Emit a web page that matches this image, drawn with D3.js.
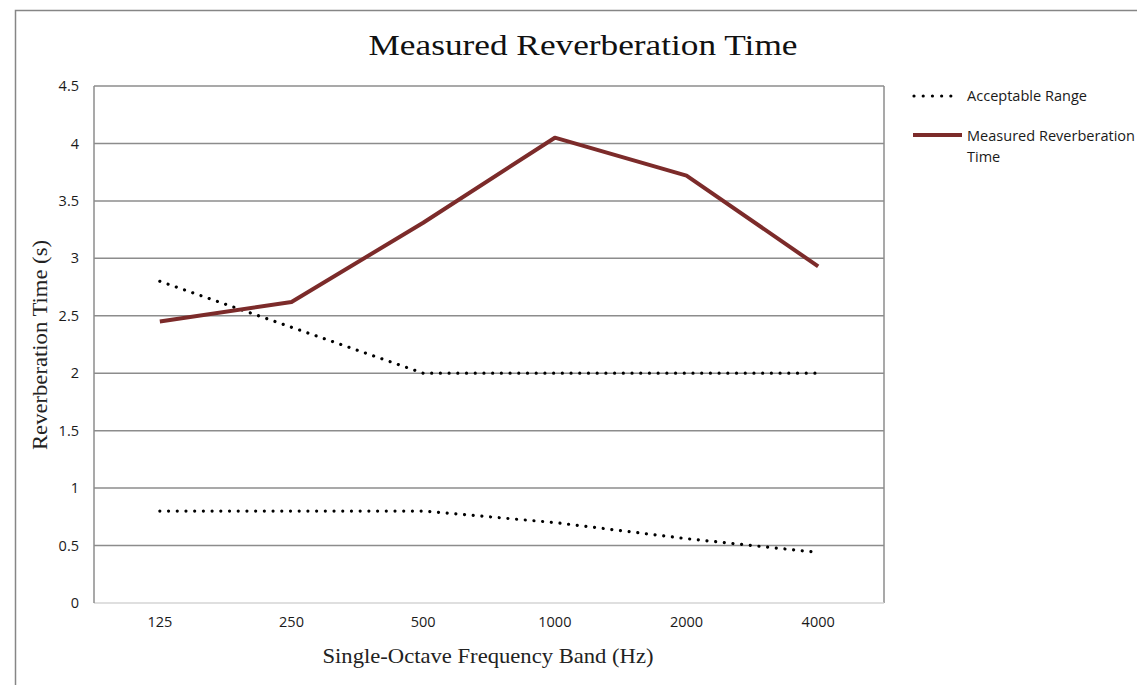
<!DOCTYPE html>
<html>
<head>
<meta charset="utf-8">
<script src="https://cdn.jsdelivr.net/npm/d3@7"></script>
<style>
  html, body { margin: 0; padding: 0; background: #fff; }
  svg { display: block; }
</style>
</head>
<body>
<svg id="chart" width="1137" height="685"></svg>
<script>
// Frequency bands (Hz)
const bands = ["125", "250", "500", "1000", "2000", "4000"];
// Upper and lower bounds of the acceptable reverberation time (s)
const acceptableUpper = [2.8, 2.4, 2.0, 2.0, 2.0, 2.0];
const acceptableLower = [0.8, 0.8, 0.8, 0.7, 0.56, 0.44];
// Measured reverberation time (s)
const measured = [2.45, 2.62, 3.31, 4.05, 3.72, 2.93];
// Value axis ticks
const yTicks = [0, 0.5, 1, 1.5, 2, 2.5, 3, 3.5, 4, 4.5];

const svg = d3.select("#chart");
const plot = { left: 94, right: 884, top: 86, bottom: 603 };

const serif = "'Liberation Serif', 'DejaVu Serif', serif";
const sans = "'Open Sans', 'Liberation Sans', sans-serif";
const labelSize = 14.5;

// Chart frame
svg.append("path")
  .attr("d", "M15.5,690 V10.5 H1140")
  .attr("fill", "none").attr("stroke", "#868686").attr("stroke-width", 1.5);

const x = d3.scaleBand().domain(bands).range([plot.left, plot.right]);
const y = d3.scaleLinear().domain([0, 4.5]).range([plot.bottom, plot.top]);

// Horizontal gridlines
svg.append("g")
  .selectAll("line")
  .data(yTicks.filter(d => d > 0))
  .join("line")
  .attr("x1", plot.left).attr("x2", plot.right)
  .attr("y1", d => y(d)).attr("y2", d => y(d))
  .attr("stroke", "#8c8c8c").attr("stroke-width", 1.5);

// Right edge of the plot area
svg.append("line")
  .attr("x1", plot.right).attr("x2", plot.right)
  .attr("y1", plot.top).attr("y2", plot.bottom)
  .attr("stroke", "#8c8c8c").attr("stroke-width", 1.5);

// Category axis line
svg.append("line")
  .attr("x1", plot.left).attr("x2", plot.right)
  .attr("y1", plot.bottom).attr("y2", plot.bottom)
  .attr("stroke", "#d4d4d4").attr("stroke-width", 1.5);

// Value axis line
svg.append("line")
  .attr("x1", plot.left).attr("x2", plot.left)
  .attr("y1", plot.top).attr("y2", plot.bottom)
  .attr("stroke", "#8c8c8c").attr("stroke-width", 1.5);

// Value axis labels
const yAxis = d3.axisLeft(y).tickValues(yTicks).tickSize(0).tickPadding(15)
  .tickFormat(d => String(d));
const yg = svg.append("g").attr("transform", `translate(${plot.left},0)`).call(yAxis);
yg.select(".domain").remove();
yg.selectAll("text")
  .attr("font-family", sans).attr("font-size", labelSize).attr("fill", "#1a1a1a");

// Category axis labels
const xAxis = d3.axisBottom(x).tickSize(0).tickPadding(14);
const xg = svg.append("g").attr("transform", `translate(0,${plot.bottom})`).call(xAxis);
xg.select(".domain").remove();
xg.selectAll("text")
  .attr("font-family", sans).attr("font-size", labelSize).attr("fill", "#1a1a1a");

const line = d3.line()
  .x((d, i) => x(bands[i]) + x.bandwidth() / 2)
  .y(d => y(d));

// Acceptable range bounds (round-dot lines)
[acceptableUpper, acceptableLower].forEach(series => {
  svg.append("path")
    .datum(series)
    .attr("d", line)
    .attr("fill", "none")
    .attr("stroke", "#000")
    .attr("stroke-width", 3.2)
    .attr("stroke-linecap", "round")
    .attr("stroke-dasharray", "0.01 8.7");
});

// Measured reverberation time
svg.append("path")
  .datum(measured)
  .attr("d", line)
  .attr("fill", "none")
  .attr("stroke", "#7c2b2a")
  .attr("stroke-width", 4)
  .attr("stroke-linejoin", "round");

// Title
svg.append("text")
  .attr("x", 583).attr("y", 55)
  .attr("text-anchor", "middle")
  .attr("font-family", serif).attr("font-size", 30).attr("fill", "#111")
  .attr("textLength", 429).attr("lengthAdjust", "spacingAndGlyphs")
  .text("Measured Reverberation Time");

// Axis titles
svg.append("text")
  .attr("x", 488).attr("y", 663)
  .attr("text-anchor", "middle")
  .attr("font-family", serif).attr("font-size", 21).attr("fill", "#222")
  .attr("textLength", 331).attr("lengthAdjust", "spacingAndGlyphs")
  .text("Single-Octave Frequency Band (Hz)");

svg.append("text")
  .attr("transform", "translate(47,345) rotate(-90)")
  .attr("text-anchor", "middle")
  .attr("font-family", serif).attr("font-size", 21).attr("fill", "#222")
  .attr("textLength", 210).attr("lengthAdjust", "spacingAndGlyphs")
  .text("Reverberation Time (s)");

// Legend
const legend = svg.append("g");
legend.append("line")
  .attr("x1", 914).attr("x2", 960).attr("y1", 96).attr("y2", 96)
  .attr("stroke", "#000").attr("stroke-width", 3.2)
  .attr("stroke-linecap", "round").attr("stroke-dasharray", "0.01 9.2");
legend.append("text")
  .attr("x", 967).attr("y", 101)
  .attr("font-family", sans).attr("font-size", labelSize).attr("fill", "#1a1a1a")
  .attr("textLength", 120).attr("lengthAdjust", "spacingAndGlyphs")
  .text("Acceptable Range");
legend.append("line")
  .attr("x1", 913).attr("x2", 962).attr("y1", 135).attr("y2", 135)
  .attr("stroke", "#7c2b2a").attr("stroke-width", 4);
legend.append("text")
  .attr("x", 967).attr("y", 141)
  .attr("font-family", sans).attr("font-size", labelSize).attr("fill", "#1a1a1a")
  .attr("textLength", 168).attr("lengthAdjust", "spacingAndGlyphs")
  .text("Measured Reverberation");
legend.append("text")
  .attr("x", 967).attr("y", 162)
  .attr("font-family", sans).attr("font-size", labelSize).attr("fill", "#1a1a1a")
  .text("Time");
</script>
</body>
</html>
